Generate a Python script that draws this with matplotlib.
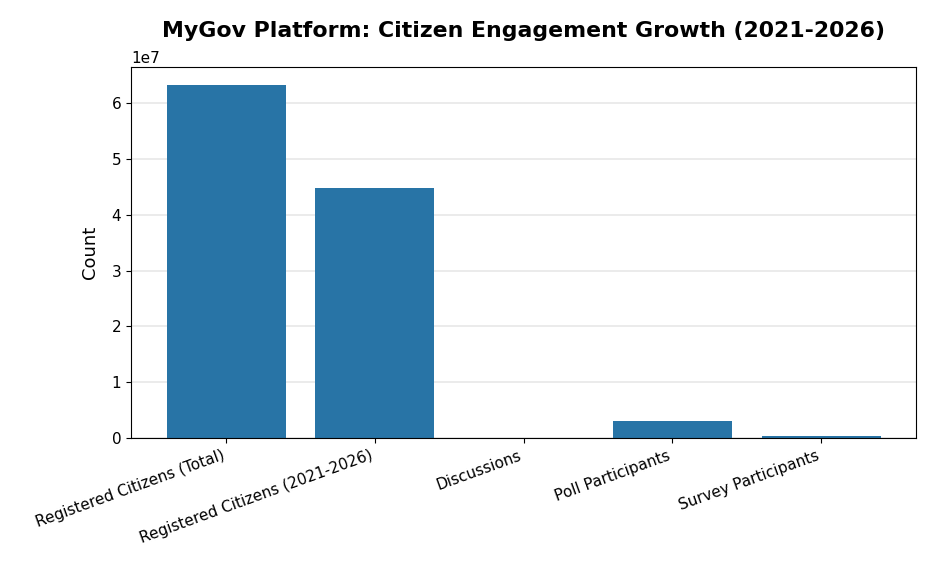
import matplotlib
matplotlib.use("Agg")
import matplotlib.pyplot as plt

# MyGov engagement numbers
categories = ["Registered Citizens (Total)", "Registered Citizens (2021-2026)",
              "Discussions", "Poll Participants", "Survey Participants"]
counts = [63300000, 44800000, 10000, 3000000, 350000]

fig, ax = plt.subplots(figsize=(9.36, 5.72), dpi=100)
ax.bar(categories, counts, color="#2874a6")
# fixed y so the title sits above the 1e7 offset text like in the original
ax.set_title("MyGov Platform: Citizen Engagement Growth (2021-2026)",
             fontsize=15.8, fontweight="bold", y=1.081, pad=0)
ax.set_ylabel("Count", fontsize=13, labelpad=9)
ax.tick_params(labelsize=11)
ax.yaxis.get_offset_text().set_fontsize(11)
ax.yaxis.grid(True, color="#e6e6e6", linewidth=1.1)
ax.set_axisbelow(True)
plt.setp(ax.get_xticklabels(), rotation=20, ha="right")
fig.subplots_adjust(left=0.140, right=0.979, bottom=0.234, top=0.883)
plt.savefig("out.png")
